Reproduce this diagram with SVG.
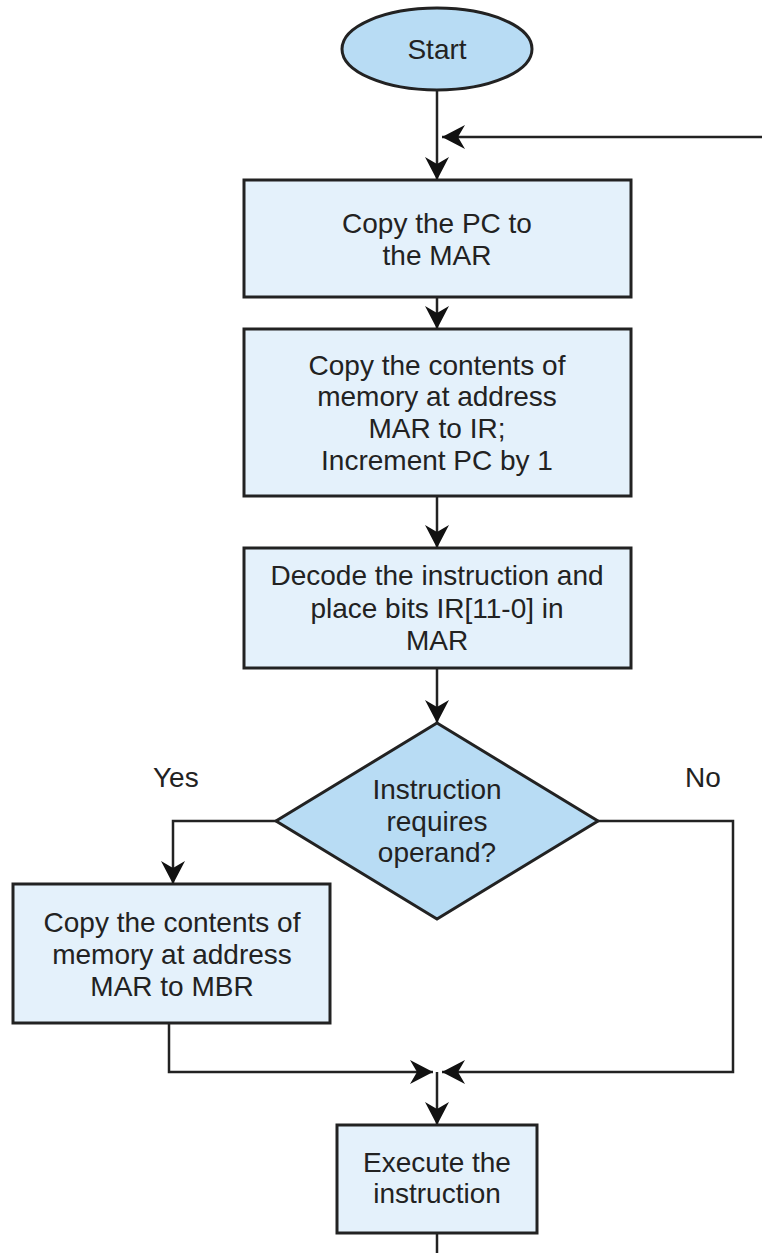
<svg xmlns="http://www.w3.org/2000/svg" width="762" height="1253" viewBox="0 0 762 1253">
  <style>
    .box { fill: #e4f1fb; stroke: #222; stroke-width: 3; }
    .shape { fill: #b8dcf4; stroke: #222; stroke-width: 3; }
    .lbl { font-family: "Liberation Sans", Arial, sans-serif; font-size: 28px; fill: #222; text-anchor: middle; }
    .side { font-family: "Liberation Sans", Arial, sans-serif; font-size: 28px; fill: #222; }
    .wire { fill: none; stroke: #222; stroke-width: 2.5; }
  </style>
  <defs>
    <marker id="head" markerUnits="userSpaceOnUse" viewBox="-24 -13 26 26" refX="0" refY="0" markerWidth="26" markerHeight="26" orient="auto">
      <path d="M0,0 L-23,-12 L-16,0 L-23,12 Z" fill="#111"/>
    </marker>
  </defs>

  <g id="connectors">
    <path class="wire" d="M437,90 V180" marker-end="url(#head)"/>
    <path class="wire" d="M762,137 H442" marker-end="url(#head)"/>
    <path class="wire" d="M437,297 V329" marker-end="url(#head)"/>
    <path class="wire" d="M437,496 V548" marker-end="url(#head)"/>
    <path class="wire" d="M437,668 V723" marker-end="url(#head)"/>
    <path class="wire" d="M276,821 H173 V884" marker-end="url(#head)"/>
    <path class="wire" d="M598,821 H733 V1072 H442" marker-end="url(#head)"/>
    <path class="wire" d="M169,1023 V1072 H433" marker-end="url(#head)"/>
    <path class="wire" d="M437,1072 V1125" marker-end="url(#head)"/>
    <path class="wire" d="M437,1233 V1253"/>
  </g>

  <g id="start">
    <ellipse class="shape" cx="437" cy="49" rx="95" ry="41"/>
    <text class="lbl" x="437" y="59">Start</text>
  </g>

  <g id="copy-pc">
    <rect class="box" x="244" y="180" width="387" height="117"/>
    <text class="lbl" x="437" y="233">Copy the PC to</text>
    <text class="lbl" x="437" y="265">the MAR</text>
  </g>

  <g id="fetch">
    <rect class="box" x="244" y="329" width="387" height="167"/>
    <text class="lbl" x="437" y="375">Copy the contents of</text>
    <text class="lbl" x="437" y="406">memory at address</text>
    <text class="lbl" x="437" y="438">MAR to IR;</text>
    <text class="lbl" x="437" y="470">Increment PC by 1</text>
  </g>

  <g id="decode">
    <rect class="box" x="244" y="548" width="387" height="120"/>
    <text class="lbl" x="437" y="585">Decode the instruction and</text>
    <text class="lbl" x="437" y="618">place bits IR[11-0] in</text>
    <text class="lbl" x="437" y="650">MAR</text>
  </g>

  <g id="operand-check">
    <polygon class="shape" points="437,723 598,821 437,919 276,821"/>
    <text class="lbl" x="437" y="799">Instruction</text>
    <text class="lbl" x="437" y="831">requires</text>
    <text class="lbl" x="437" y="862">operand?</text>
  </g>

  <g id="label-yes">
    <text class="side" x="153" y="787">Yes</text>
  </g>
  <g id="label-no">
    <text class="side" x="685" y="787">No</text>
  </g>

  <g id="fetch-operand">
    <rect class="box" x="13" y="884" width="317" height="139"/>
    <text class="lbl" x="172" y="932">Copy the contents of</text>
    <text class="lbl" x="172" y="964">memory at address</text>
    <text class="lbl" x="172" y="996">MAR to MBR</text>
  </g>

  <g id="execute">
    <rect class="box" x="337" y="1125" width="200" height="108"/>
    <text class="lbl" x="437" y="1172">Execute the</text>
    <text class="lbl" x="437" y="1203">instruction</text>
  </g>
</svg>
